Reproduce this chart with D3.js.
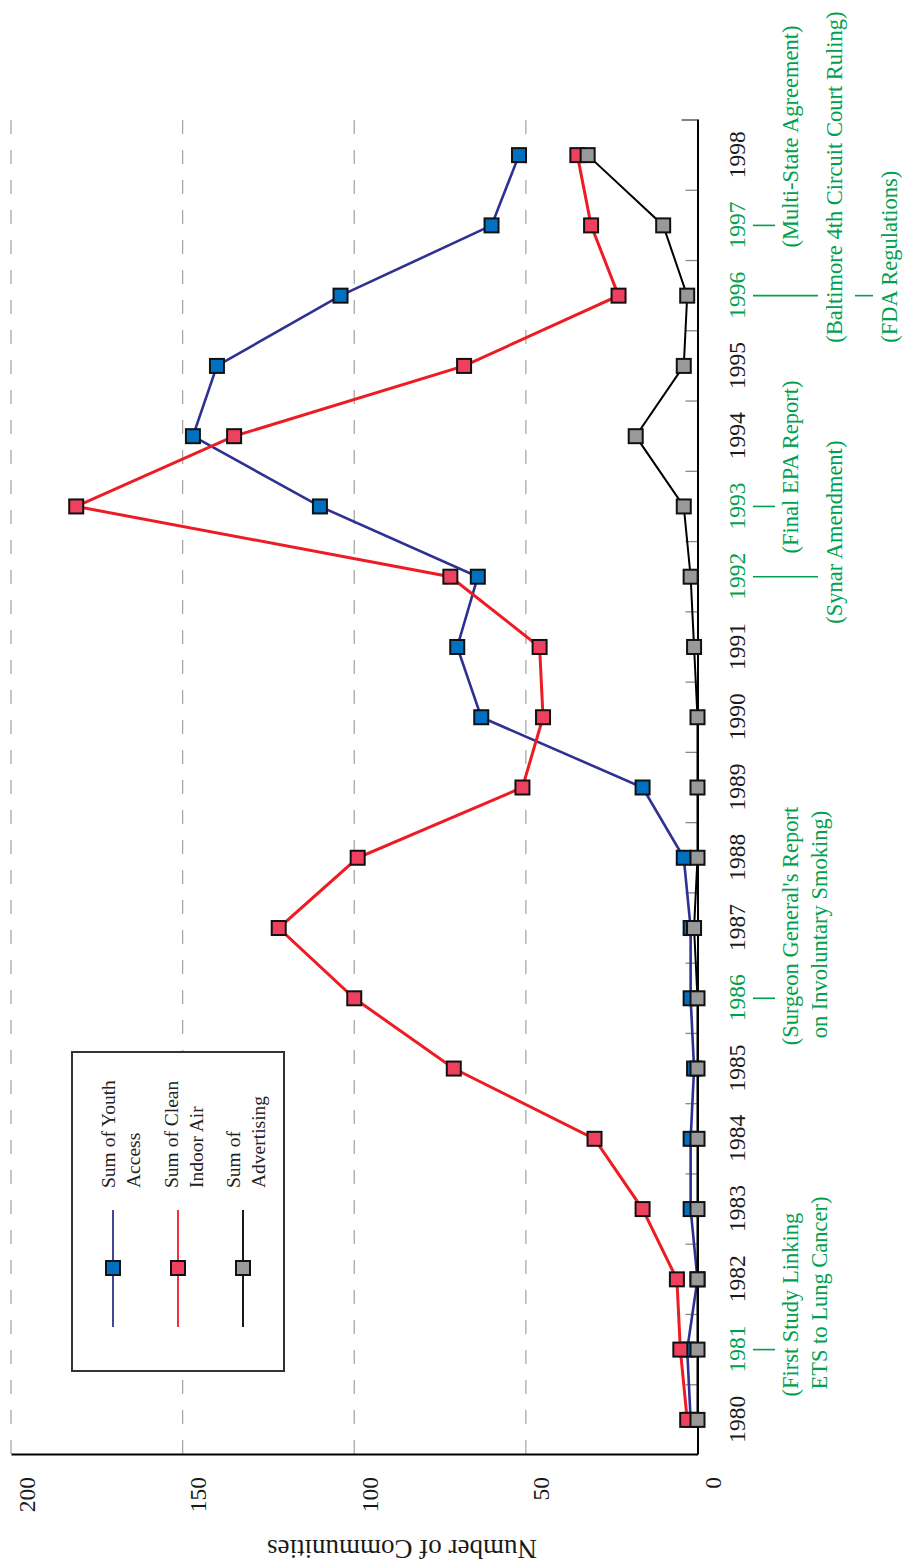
<!DOCTYPE html>
<html>
<head>
<meta charset="utf-8">
<script src="https://cdn.jsdelivr.net/npm/d3@7"></script>
<style>
  body { margin: 0; background: #fff; }
  svg { display: block; font-family: "Liberation Serif", "Times New Roman", serif; }
</style>
</head>
<body>
<svg id="chart" width="908" height="1566"></svg>
<script>
// data
const years = [1980, 1981, 1982, 1983, 1984, 1985, 1986, 1987, 1988, 1989,
               1990, 1991, 1992, 1993, 1994, 1995, 1996, 1997, 1998];
const youthAccess    = [2, 3, 0, 2, 2, 1, 2, 2, 4, 16, 63, 70, 64, 110, 147, 140, 104, 60, 52];
const cleanIndoorAir = [3, 5, 6, 16, 30, 71, 100, 122, 99, 51, 45, 46, 72, 181, 135, 68, 23, 31, 35];
const advertising    = [0, 0, 0, 0, 0, 0, 0, 1, 0, 0, 0, 1, 2, 4, 18, 4, 3, 10, 32];
const valueTicks = [0, 50, 100, 150, 200];
const legendLabels = [["Sum of Youth", "Access"], ["Sum of Clean", "Indoor Air"], ["Sum of", "Advertising"]];
const eventYears = [1981, 1986, 1992, 1993, 1996, 1997];
const eventNotes = [
  { year: 1981, row: 0, lines: ["(First Study Linking", "ETS to Lung Cancer)"] },
  { year: 1986, row: 0, lines: ["(Surgeon General's Report", "on Involuntary Smoking)"] },
  { year: 1993, row: 0, lines: ["(Final EPA Report)"] },
  { year: 1992, row: 1, lines: ["(Synar Amendment)"] },
  { year: 1997, row: 0, lines: ["(Multi-State Agreement)"], shift: 25 },
  { year: 1996, row: 1, lines: ["(Baltimore 4th Circuit Court Ruling)"] },
  { year: 1996, row: 2, lines: ["(FDA Regulations)"] }
];

const seriesValues = [youthAccess, cleanIndoorAir, advertising];
const styles = [
  { line: "#2E3192", fill: "#0070C0", width: 2.6 },
  { line: "#ED1C24", fill: "#F04060", width: 3 },
  { line: "#000000", fill: "#999999", width: 2 }
];
const green = "#00A04E";

// the chart is drawn lying on its side: build it in a 1566x908 frame, then turn it
const svg = d3.select("#chart");
const g = svg.append("g").attr("transform", "translate(0,1566) rotate(-90)");

const plot = { left: 111, right: 1446, top: 11, bottom: 697.5 };
const x = d3.scalePoint().domain(years).range([plot.left, plot.right]).padding(0.5);
const y = d3.scaleLinear().domain([0, 200]).range([plot.bottom, plot.top]);

// dashed gridlines
g.selectAll(".grid").data(valueTicks.slice(1)).join("line")
  .attr("x1", plot.right).attr("x2", plot.left)
  .attr("y1", d => y(d)).attr("y2", d => y(d))
  .attr("stroke", "#a8a8a8").attr("stroke-width", 1.3)
  .attr("stroke-dasharray", "14,16");

// tick marks between the years
const bounds = years.slice(1).map(d => x(d) - x.step() / 2);
g.selectAll(".btick").data(bounds).join("line")
  .attr("x1", d => d).attr("x2", d => d)
  .attr("y1", plot.bottom).attr("y2", plot.bottom - 12)
  .attr("stroke", "#888").attr("stroke-width", 1.3);
g.append("line")
  .attr("x1", plot.right).attr("x2", plot.right)
  .attr("y1", plot.bottom).attr("y2", plot.bottom - 16)
  .attr("stroke", "#666").attr("stroke-width", 1.6);

// year axis
const xAxisG = g.append("g")
  .attr("transform", `translate(0,${plot.bottom})`)
  .call(d3.axisBottom(x).tickSize(0).tickSizeOuter(0).tickPadding(0));
xAxisG.select(".domain").attr("stroke", "#000").attr("stroke-width", 2);
xAxisG.selectAll("text")
  .attr("y", 47.5).attr("dy", 0)
  .attr("font-size", 23.5).attr("font-family", "Liberation Serif, serif")
  .attr("fill", d => eventYears.includes(d) ? green : "#1a1a1a");

// value axis
const yAxisG = g.append("g")
  .attr("transform", `translate(${plot.left},0)`)
  .call(d3.axisLeft(y).tickValues(valueTicks).tickSize(0).tickSizeOuter(0).tickPadding(22));
yAxisG.select(".domain").attr("stroke", "#000").attr("stroke-width", 2);
yAxisG.selectAll("text")
  .attr("dy", 23)
  .attr("font-size", 23.5).attr("font-family", "Liberation Serif, serif")
  .attr("fill", "#1a1a1a");

g.append("text")
  .attr("transform", "translate(26,402) rotate(-90)")
  .attr("text-anchor", "middle")
  .attr("font-size", 27).attr("fill", "#1a1a1a")
  .text("Number of Communities");

// series
const line = d3.line().x(d => x(d.year)).y(d => y(d.value));
seriesValues.forEach((vals, i) => {
  const pts = years.map((yr, j) => ({ year: yr, value: vals[j] }));
  g.append("path").datum(pts)
    .attr("d", line).attr("fill", "none")
    .attr("stroke", styles[i].line).attr("stroke-width", styles[i].width);
  g.selectAll(".m" + i).data(pts).join("rect")
    .attr("x", d => x(d.year) - 7).attr("y", d => y(d.value) - 7)
    .attr("width", 14).attr("height", 14)
    .attr("fill", styles[i].fill).attr("stroke", "#111").attr("stroke-width", 2);
});

// event ticks and notes
const rowTick = [[753, 775], [753, 818], [855, 873]];
const rowBase = [798, 842, 897];
eventNotes.forEach(n => {
  const u = x(n.year);
  g.append("line")
    .attr("x1", u).attr("x2", u)
    .attr("y1", rowTick[n.row][0]).attr("y2", rowTick[n.row][1])
    .attr("stroke", green).attr("stroke-width", 1.6);
  n.lines.forEach((t, k) => {
    g.append("text")
      .attr("x", u - 47 + (n.shift || 0) + k * 7)
      .attr("y", rowBase[n.row] + k * 29)
      .attr("font-size", 22.5).attr("fill", green)
      .text(t);
  });
});

// legend
const lg = g.append("g");
lg.append("rect")
  .attr("x", 195).attr("y", 72).attr("width", 319).attr("height", 212)
  .attr("fill", "#fff").attr("stroke", "#333").attr("stroke-width", 2);
legendLabels.forEach((lab, i) => {
  const v = 113 + i * 65;
  lg.append("line")
    .attr("x1", 239).attr("x2", 356).attr("y1", v).attr("y2", v)
    .attr("stroke", styles[i].line).attr("stroke-width", 1.8);
  lg.append("rect")
    .attr("x", 298 - 7).attr("y", v - 7).attr("width", 14).attr("height", 14)
    .attr("fill", styles[i].fill).attr("stroke", "#111").attr("stroke-width", 2);
  lab.forEach((t, k) => {
    lg.append("text")
      .attr("x", 378).attr("y", 115 + i * 62.5 + k * 25)
      .attr("font-size", 19.5).attr("fill", "#222")
      .text(t);
  });
});
</script>
</body>
</html>
